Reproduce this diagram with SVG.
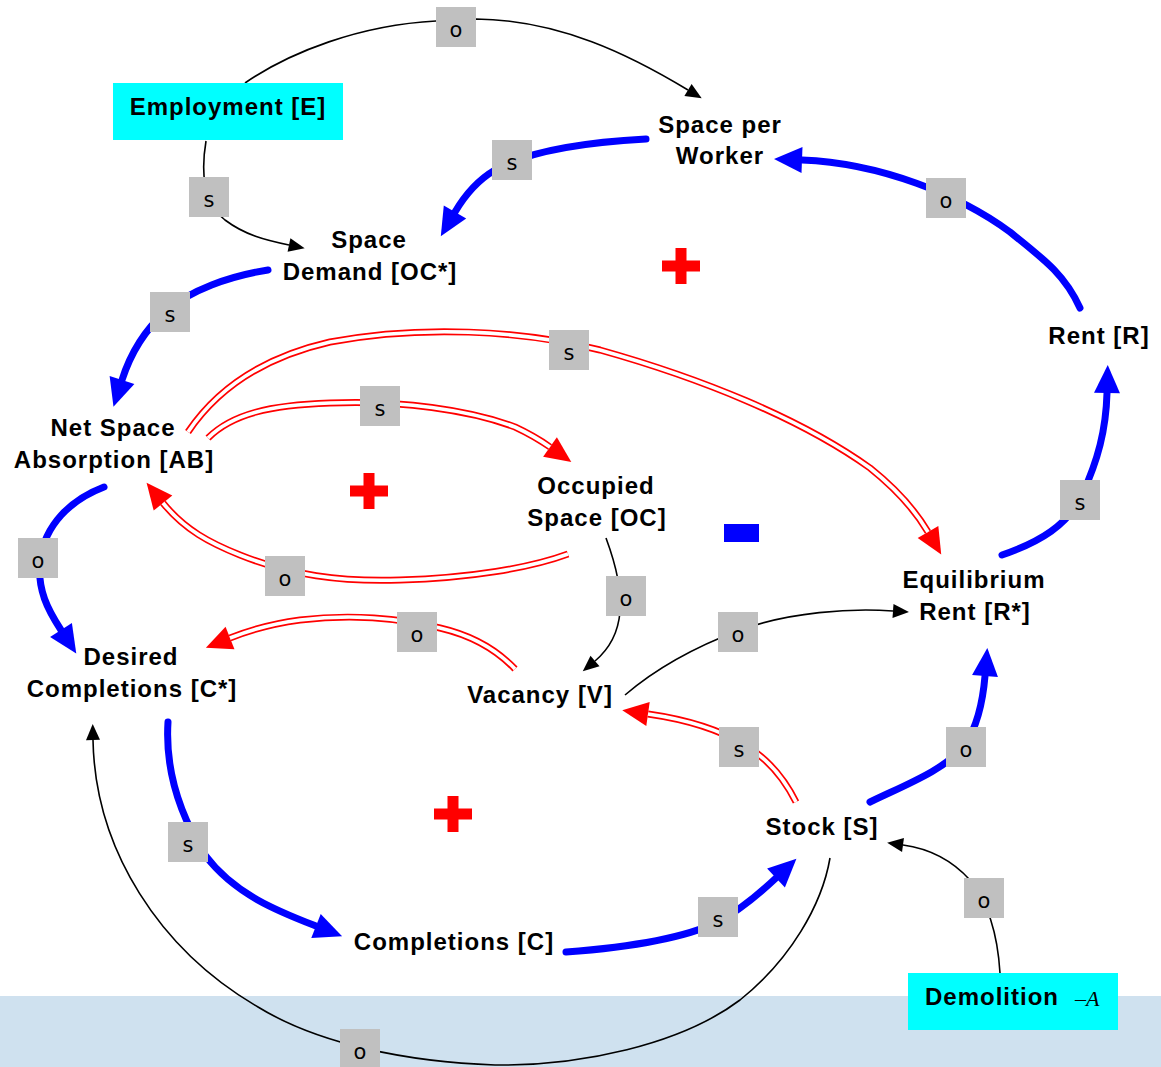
<svg xmlns="http://www.w3.org/2000/svg" width="1161" height="1067" viewBox="0 0 1161 1067">
<style>
.lbl{font-family:"Liberation Sans",Arial,sans-serif;font-weight:bold;font-size:24px;letter-spacing:1px;text-anchor:middle;fill:#000}
.tag rect{fill:#c0c0c0}
.tag text{font-family:"DejaVu Sans",sans-serif;font-size:21px;text-anchor:middle;fill:#000}
.blue{fill:none;stroke:#0000ff;stroke-width:7;stroke-linecap:round;marker-end:url(#bh)}
.redo{fill:none;stroke:#ff0000;stroke-width:7;marker-end:url(#rh)}
.redi{fill:none;stroke:#ffffff;stroke-width:3.6}
.blk{fill:none;stroke:#000;stroke-width:1.6;marker-end:url(#kh)}
.sign{fill:#ff0000}
</style>
<defs>
<marker id="bh" markerUnits="userSpaceOnUse" viewBox="0 -14 30 28" refX="0" refY="0" markerWidth="30" markerHeight="28" orient="auto" overflow="visible"><path d="M0,-13 L28,0 L0,13 z" fill="#0000ff"/></marker>
<marker id="rh" markerUnits="userSpaceOnUse" viewBox="0 -13 28 26" refX="0" refY="0" markerWidth="28" markerHeight="26" orient="auto" overflow="visible"><path d="M0,-12 L26,0 L0,12 z" fill="#ff0000"/></marker>
<marker id="kh" markerUnits="userSpaceOnUse" viewBox="0 -8 18 16" refX="0" refY="0" markerWidth="18" markerHeight="16" orient="auto" overflow="visible"><path d="M0,-7 L16,0 L0,7 z" fill="#000"/></marker>
<path id="plus" d="M-19,-5.5 H-5.5 V-18 H5.5 V-5.5 H19 V5.5 H5.5 V18 H-5.5 V5.5 H-19 z"/>
</defs>
<rect x="0" y="0" width="1161" height="1067" fill="#ffffff"/>
<rect x="0" y="996" width="1161" height="71" fill="#cfe1ef"/>

<g id="connectors">
<!-- blue thick -->
<path class="blue" d="M646,139 C590,142 530,150 495,170 C478,180 465,195 455,212"/>
<path class="blue" d="M1080,308 C1065,275 1045,260 1010,232 C960,195 880,163 802,160"/>
<path class="blue" d="M268,270 C230,276 190,290 165,312 C145,330 130,355 122,380"/>
<path class="blue" d="M104,487 C70,500 45,525 40,560 C37,590 48,610 61,630"/>
<path class="blue" d="M168,722 C165,770 180,815 205,855 C235,895 280,912 316,926"/>
<path class="blue" d="M566,952 C620,948 680,940 718,922 C740,910 760,893 776,878"/>
<path class="blue" d="M870,802 C905,785 945,770 965,745 C978,725 983,700 985,676"/>
<path class="blue" d="M1002,555 C1040,542 1068,525 1082,495 C1098,460 1106,430 1107,393"/>
<!-- red double -->
<path class="redo" d="M188,432 C215,392 260,358 330,342 C420,325 520,330 600,350 C700,378 800,418 870,468 C895,488 915,510 928,532"/>
<path class="redi" d="M188,432 C215,392 260,358 330,342 C420,325 520,330 600,350 C700,378 800,418 870,468 C895,488 915,510 928,532"/>
<path class="redo" d="M208,438 C232,414 270,405 330,403 C400,400 470,410 515,427 C530,434 540,440 550,447"/>
<path class="redi" d="M208,438 C232,414 270,405 330,403 C400,400 470,410 515,427 C530,434 540,440 550,447"/>
<path class="redo" d="M568,554 C530,568 470,578 400,580 C340,582 290,575 240,555 C210,543 185,530 163,503"/>
<path class="redi" d="M568,554 C530,568 470,578 400,580 C340,582 290,575 240,555 C210,543 185,530 163,503"/>
<path class="redo" d="M515,669 C495,648 470,635 440,628 C400,618 350,614 300,620 C270,624 250,630 230,638"/>
<path class="redi" d="M515,669 C495,648 470,635 440,628 C400,618 350,614 300,620 C270,624 250,630 230,638"/>
<path class="redo" d="M796,802 C785,780 770,760 745,745 C720,730 690,720 648,714"/>
<path class="redi" d="M796,802 C785,780 770,760 745,745 C720,730 690,720 648,714"/>
<!-- black thin -->
<path class="blk" d="M245,83 C290,52 360,25 436,21 L476,19 C560,20 630,55 688,90"/>
<path class="blk" d="M206,141 C202,165 200,200 225,220 C245,235 265,240 289,245"/>
<path class="blk" d="M606,538 C616,565 622,590 620,612 C618,635 608,650 595,661"/>
<path class="blk" d="M625,695 C660,665 700,645 740,630 C790,612 850,608 893,611"/>
<path class="blk" d="M1000,973 C998,940 990,905 970,880 C950,858 925,848 903,845"/>
<path class="blk" d="M830,858 C822,905 790,960 740,1000 C680,1045 580,1066 495,1065 C410,1062 320,1045 258,1007 C160,950 95,850 93,740"/>
</g>

<g id="tags">
<g class="tag"><rect x="436" y="7" width="40" height="40"/><text x="456" y="37">o</text></g>
<g class="tag"><rect x="189" y="177" width="40" height="40"/><text x="209" y="207">s</text></g>
<g class="tag"><rect x="492" y="140" width="40" height="40"/><text x="512" y="170">s</text></g>
<g class="tag"><rect x="926" y="178" width="40" height="40"/><text x="946" y="208">o</text></g>
<g class="tag"><rect x="150" y="292" width="40" height="40"/><text x="170" y="322">s</text></g>
<g class="tag"><rect x="549" y="330" width="40" height="40"/><text x="569" y="360">s</text></g>
<g class="tag"><rect x="360" y="386" width="40" height="40"/><text x="380" y="416">s</text></g>
<g class="tag"><rect x="18" y="538" width="40" height="40"/><text x="38" y="568">o</text></g>
<g class="tag"><rect x="265" y="556" width="40" height="40"/><text x="285" y="586">o</text></g>
<g class="tag"><rect x="606" y="576" width="40" height="40"/><text x="626" y="606">o</text></g>
<g class="tag"><rect x="397" y="612" width="40" height="40"/><text x="417" y="642">o</text></g>
<g class="tag"><rect x="718" y="612" width="40" height="40"/><text x="738" y="642">o</text></g>
<g class="tag"><rect x="1060" y="480" width="40" height="40"/><text x="1080" y="510">s</text></g>
<g class="tag"><rect x="719" y="727" width="40" height="40"/><text x="739" y="757">s</text></g>
<g class="tag"><rect x="946" y="727" width="40" height="40"/><text x="966" y="757">o</text></g>
<g class="tag"><rect x="168" y="822" width="40" height="40"/><text x="188" y="852">s</text></g>
<g class="tag"><rect x="698" y="897" width="40" height="40"/><text x="718" y="927">s</text></g>
<g class="tag"><rect x="964" y="878" width="40" height="40"/><text x="984" y="908">o</text></g>
<g class="tag"><rect x="340" y="1029" width="40" height="40"/><text x="360" y="1059">o</text></g>
</g>

<g id="signs">
<use href="#plus" class="sign" x="681" y="266"/>
<use href="#plus" class="sign" x="369" y="491"/>
<use href="#plus" class="sign" x="453" y="814"/>
<rect x="724" y="524" width="35" height="18" fill="#0000ff"/>
</g>

<g id="node-employment"><rect x="113" y="83" width="230" height="57" fill="#00ffff"/><text class="lbl" x="228" y="115">Employment [E]</text></g>
<g id="node-space-per-worker"><text class="lbl" x="720" y="133">Space per</text><text class="lbl" x="720" y="164">Worker</text></g>
<g id="node-space-demand"><text class="lbl" x="369" y="248">Space</text><text class="lbl" x="370" y="280">Demand [OC*]</text></g>
<g id="node-rent"><text class="lbl" x="1099" y="344">Rent [R]</text></g>
<g id="node-net-space-absorption"><text class="lbl" x="113" y="436">Net Space</text><text class="lbl" x="114" y="468">Absorption [AB]</text></g>
<g id="node-occupied-space"><text class="lbl" x="596" y="494">Occupied</text><text class="lbl" x="597" y="526">Space [OC]</text></g>
<g id="node-equilibrium-rent"><text class="lbl" x="974" y="588">Equilibrium</text><text class="lbl" x="975" y="620">Rent [R*]</text></g>
<g id="node-desired-completions"><text class="lbl" x="131" y="665">Desired</text><text class="lbl" x="132" y="697">Completions [C*]</text></g>
<g id="node-vacancy"><text class="lbl" x="540" y="703">Vacancy [V]</text></g>
<g id="node-stock"><text class="lbl" x="822" y="835">Stock [S]</text></g>
<g id="node-completions"><text class="lbl" x="454" y="950">Completions [C]</text></g>
<g id="node-demolition"><rect x="908" y="973" width="210" height="57" fill="#00ffff"/><text class="lbl" x="992" y="1005">Demolition</text><text x="1075" y="1006" font-family="Liberation Serif,serif" font-style="italic" font-size="22" fill="#000">–A</text></g>
</svg>
